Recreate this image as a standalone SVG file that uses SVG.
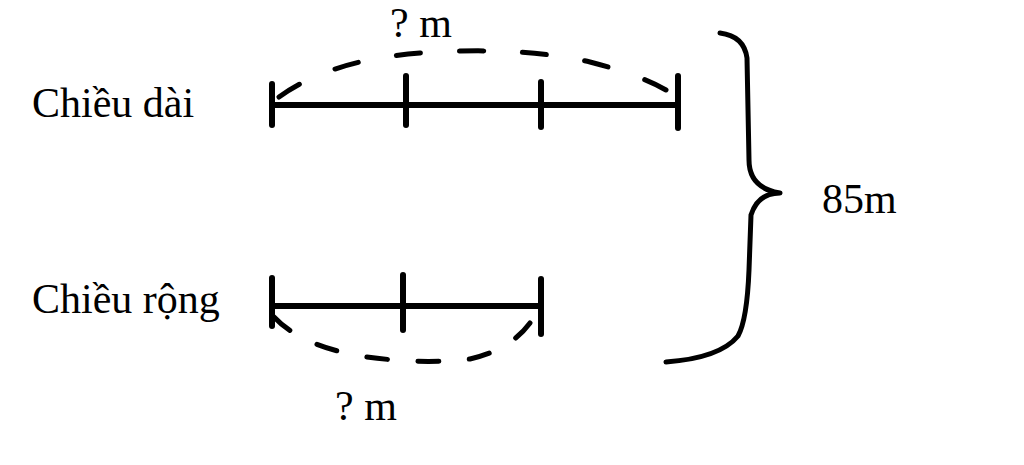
<svg xmlns="http://www.w3.org/2000/svg" width="1024" height="465" viewBox="0 0 1024 465">
<style>
.t{font-family:"Liberation Serif","Times New Roman",serif;font-size:42px;fill:#000}
.bar{stroke:#000;stroke-width:6;stroke-linecap:round;fill:none}
.dash{stroke:#000;stroke-width:5;stroke-linecap:round;fill:none}
.brace{stroke:#000;stroke-width:5;stroke-linecap:round;stroke-linejoin:round;fill:none}
</style>
<rect width="1024" height="465" fill="#fff"/>
<g id="label-length"><text class="t" x="32" y="117">Chiều dài</text></g>
<g id="label-width"><text class="t" x="32" y="313">Chiều rộng</text></g>
<g id="length-bar">
<line class="bar" x1="272" y1="105" x2="678" y2="105"/>
<line class="bar" x1="272" y1="84" x2="272" y2="125"/>
<line class="bar" x1="406" y1="76" x2="406" y2="125"/>
<line class="bar" x1="541" y1="82" x2="541" y2="127"/>
<line class="bar" x1="678" y1="76" x2="678" y2="128"/>
</g>
<g id="width-bar">
<line class="bar" x1="272" y1="306" x2="541" y2="306"/>
<line class="bar" x1="272" y1="278" x2="272" y2="326"/>
<line class="bar" x1="403" y1="275" x2="403" y2="330"/>
<line class="bar" x1="541" y1="279" x2="541" y2="334"/>
</g>
<g id="connectors">
<path class="dash" pathLength="100" stroke-dasharray="6 9.67" d="M279,97 Q330,60 420,53 Q520,46 590,62 Q640,75 666,90"/>
<path class="dash" pathLength="100" stroke-dasharray="7.5 11" d="M274,317 Q300,345 360,356 Q420,365 470,359 Q510,350 530,323"/>
<path class="brace" d="M720,33 Q744,36 747,58 L749,160 Q749,188 780,193 Q758,193 751,215 L749,270 Q747,320 738,336 Q720,358 666,362"/>
</g>
<g id="label-top"><text class="t" x="390" y="37">? m</text></g>
<g id="label-bottom"><text class="t" x="335" y="420">? m</text></g>
<g id="label-total"><text class="t" x="822" y="213">85m</text></g>
</svg>
